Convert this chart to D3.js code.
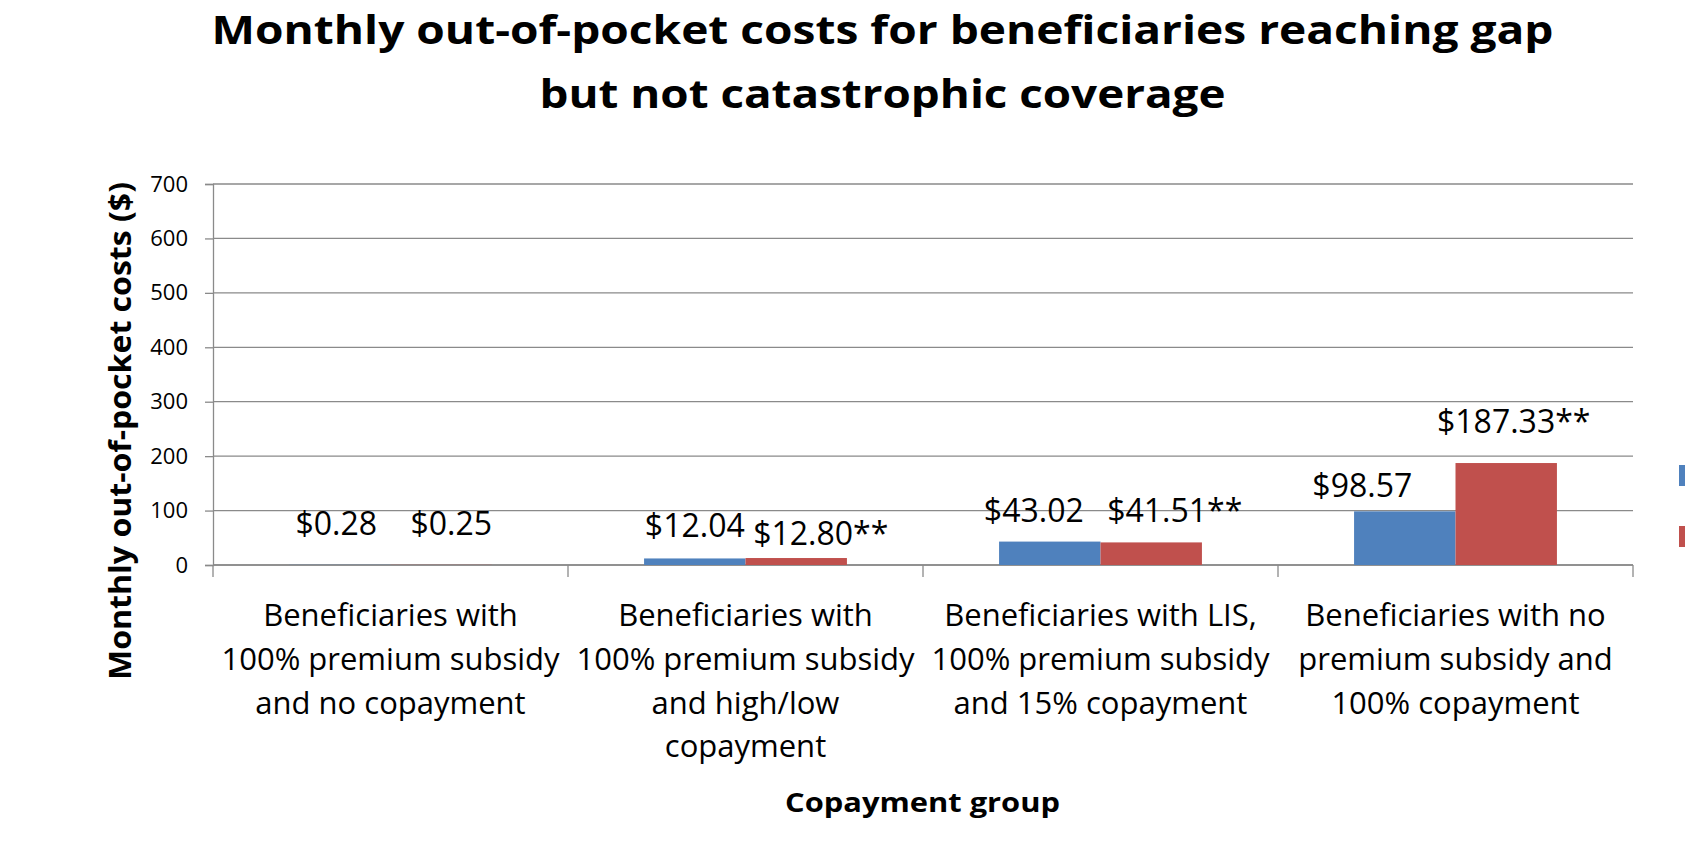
<!DOCTYPE html>
<html>
<head>
<meta charset="utf-8">
<script src="https://cdn.jsdelivr.net/npm/d3@7"></script>
<style>
  html, body { margin: 0; padding: 0; background: #fff; overflow: hidden; }
  svg { display: block; font-family: "Open Sans", "Noto Sans", sans-serif; }
</style>
</head>
<body>
<svg id="chart" width="1685" height="843"></svg>
<script>
// Copayment groups, each label broken into its display lines
const categoryLines = [
  ["Beneficiaries with", "100% premium subsidy", "and no copayment"],
  ["Beneficiaries with", "100% premium subsidy", "and high/low", "copayment"],
  ["Beneficiaries with LIS,", "100% premium subsidy", "and 15% copayment"],
  ["Beneficiaries with no", "premium subsidy and", "100% copayment"]
];
const categories = categoryLines.map(l => l.join(" "));

// Monthly out-of-pocket costs ($) for the two series
const seriesA = [0.28, 12.04, 43.02, 98.57];
const seriesB = [0.25, 12.80, 41.51, 187.33];
const suffixA = ["", "", "", ""];
const suffixB = ["", "**", "**", "**"];

const yTicks = [0, 100, 200, 300, 400, 500, 600, 700];

const titleLines = ["Monthly out-of-pocket costs for beneficiaries reaching gap",
                    "but not catastrophic coverage"];
const yTitle = "Monthly out-of-pocket costs ($)";
const xTitle = "Copayment group";

const colors = ["#4F81BD", "#C0504D"];

// Hand-placed data label offsets [dx, dy] from the top centre of each bar
const nudgeA = [[-3.5, -30], [0, -21], [-16, -20], [-42.5, -14]];
const nudgeB = [[10, -30], [24.5, -13], [23.5, -20], [7.5, -30]];

const svg = d3.select("#chart");
const plot = { left: 213, right: 1633, top: 184, bottom: 565 };

const x = d3.scaleBand().domain(categories).range([plot.left, plot.right]).paddingInner(0).paddingOuter(0);
const y = d3.scaleLinear().domain([0, 700]).range([plot.bottom, plot.top]);
// Two touching bars per group with a 150% gap width split on both sides
const inner = d3.scaleBand().domain([0, 1]).range([0, x.bandwidth()]).paddingOuter(0.75).paddingInner(0);

// Title
svg.append("g").selectAll("text").data(titleLines).join("text")
  .attr("x", 882.5)
  .attr("y", (d, i) => 44 + i * 64)
  .attr("text-anchor", "middle")
  .attr("font-weight", 700)
  .attr("font-size", 39)
  .attr("textLength", (d, i) => i === 0 ? 1342 : 686)
  .attr("lengthAdjust", "spacingAndGlyphs")
  .text(d => d);

// Horizontal gridlines
svg.append("g").selectAll("line").data(yTicks).join("line")
  .attr("x1", plot.left).attr("x2", plot.right)
  .attr("y1", d => y(d)).attr("y2", d => y(d))
  .attr("stroke", "#8a8a8a").attr("stroke-width", 1.3);

// Y axis
const yAxis = svg.append("g")
  .attr("transform", `translate(${plot.left},0)`)
  .call(d3.axisLeft(y).tickValues(yTicks).tickSize(8).tickPadding(17).tickFormat(d3.format("d")));
yAxis.select(".domain").attr("stroke", "#8a8a8a").attr("stroke-width", 1.3);
yAxis.selectAll(".tick line").attr("stroke", "#8a8a8a").attr("stroke-width", 1.3);
yAxis.selectAll(".tick text").attr("font-size", 22).attr("fill", "#000")
  .attr("font-family", "Open Sans, Noto Sans, sans-serif");

// X axis: baseline with ticks on the group boundaries
const xAxisG = svg.append("g");
xAxisG.append("line")
  .attr("x1", plot.left).attr("x2", plot.right)
  .attr("y1", y(0)).attr("y2", y(0))
  .attr("stroke", "#8a8a8a").attr("stroke-width", 1.3);
const boundaries = categories.map(c => x(c)).concat([x(categories[categories.length - 1]) + x.bandwidth()]);
xAxisG.selectAll("line.bnd").data(boundaries).join("line")
  .attr("class", "bnd")
  .attr("x1", d => d).attr("x2", d => d)
  .attr("y1", y(0)).attr("y2", y(0) + 12)
  .attr("stroke", "#8a8a8a").attr("stroke-width", 1.3);

// Category labels
const catG = xAxisG.selectAll("text.cat").data(categoryLines).join("text")
  .attr("class", "cat")
  .attr("text-anchor", "middle")
  .attr("font-size", 31)
  .attr("fill", "#000");
catG.each(function(lines, i) {
  const cx = x(categories[i]) + x.bandwidth() / 2;
  d3.select(this).selectAll("tspan").data(lines).join("tspan")
    .attr("x", cx)
    .attr("y", (d, j) => 626 + j * 43.8)
    .text(d => d);
});

// Bars and their value labels
const series = [
  { values: seriesA, suffix: suffixA, nudge: nudgeA },
  { values: seriesB, suffix: suffixB, nudge: nudgeB }
];
const fmt = d3.format(".2f");

series.forEach((s, si) => {
  const g = svg.append("g");
  g.selectAll("rect").data(s.values).join("rect")
    .attr("x", (d, i) => x(categories[i]) + inner(si))
    .attr("y", d => y(d))
    .attr("width", inner.bandwidth())
    .attr("height", d => y(0) - y(d))
    .attr("fill", colors[si]);
  g.selectAll("text").data(s.values).join("text")
    .attr("x", (d, i) => x(categories[i]) + inner(si) + inner.bandwidth() / 2 + s.nudge[i][0])
    .attr("y", (d, i) => y(d) + s.nudge[i][1])
    .attr("text-anchor", "middle")
    .attr("font-size", 32)
    .attr("fill", "#000")
    .text((d, i) => "$" + fmt(d) + s.suffix[i]);
});

// Axis titles
svg.append("text")
  .attr("transform", `translate(131,431) rotate(-90)`)
  .attr("text-anchor", "middle")
  .attr("font-weight", 700)
  .attr("font-size", 30)
  .attr("textLength", 498)
  .attr("lengthAdjust", "spacingAndGlyphs")
  .text(yTitle);

svg.append("text")
  .attr("x", 922.5)
  .attr("y", 812)
  .attr("text-anchor", "middle")
  .attr("font-weight", 700)
  .attr("font-size", 26)
  .attr("textLength", 275)
  .attr("lengthAdjust", "spacingAndGlyphs")
  .text(xTitle);

// Legend swatches at the right edge
svg.append("g").selectAll("rect").data(colors).join("rect")
  .attr("x", 1679)
  .attr("y", (d, i) => 465 + i * 61)
  .attr("width", 21)
  .attr("height", 21)
  .attr("fill", d => d);
</script>
</body>
</html>
